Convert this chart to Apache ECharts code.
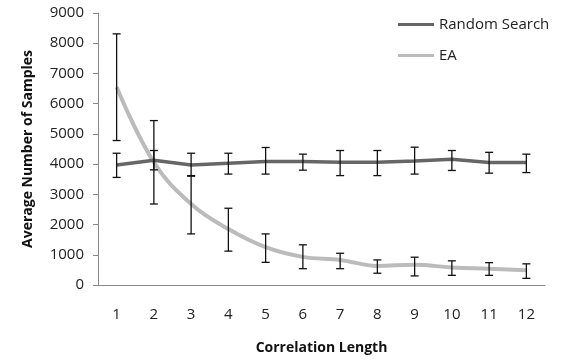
<!DOCTYPE html>
<html>
<head>
<meta charset="utf-8">
<script src="https://cdn.jsdelivr.net/npm/echarts@6/dist/echarts.min.js"></script>
<style>
  html, body { margin: 0; padding: 0; background: #fff; }
  #chart { width: 564px; height: 361px; }
</style>
</head>
<body>
<div id="chart"></div>
<script>
// correlation length categories
const lengths = ["1", "2", "3", "4", "5", "6", "7", "8", "9", "10", "11", "12"];

// Random Search: mean and error bar ends
const rsMean = [3970, 4130, 3970, 4030, 4090, 4090, 4060, 4060, 4100, 4160, 4050, 4050];
const rsLow  = [3560, 3810, 3620, 3670, 3670, 3800, 3620, 3620, 3670, 3790, 3700, 3720];
const rsHigh = [4360, 4450, 4360, 4360, 4550, 4330, 4450, 4450, 4560, 4450, 4390, 4330];

// EA: mean and error bar ends
const eaMean = [6550, 4060, 2680, 1850, 1250, 930, 830, 630, 670, 580, 540, 490];
const eaLow  = [4780, 2680, 1690, 1120, 750, 540, 540, 390, 300, 320, 320, 220];
const eaHigh = [8310, 5440, 3600, 2540, 1690, 1330, 1050, 830, 920, 800, 740, 700];

const font = "'Open Sans', sans-serif";
const chart = echarts.init(document.getElementById("chart"));

// error bar drawn with custom series (vertical line + caps)
function errorSeries(name, low, high) {
  const data = lengths.map((c, i) => [i, low[i], high[i]]);
  return {
    name: name + " err",
    type: "custom",
    z: 5,
    silent: true,
    data: data,
    encode: { x: 0, y: [1, 2] },
    renderItem: (params, api) => {
      const lo = api.coord([api.value(0), api.value(1)]);
      const hi = api.coord([api.value(0), api.value(2)]);
      const w = 4;
      const style = { stroke: "#111", lineWidth: 1.3 };
      return {
        type: "group",
        children: [
          { type: "line", shape: { x1: lo[0], y1: lo[1], x2: hi[0], y2: hi[1] }, style },
          { type: "line", shape: { x1: lo[0] - w, y1: lo[1], x2: lo[0] + w, y2: lo[1] }, style },
          { type: "line", shape: { x1: hi[0] - w, y1: hi[1], x2: hi[0] + w, y2: hi[1] }, style }
        ]
      };
    }
  };
}

const option = {
  animation: false,
  textStyle: { fontFamily: font },
  grid: { left: 98, right: 19, top: 13, bottom: 76, containLabel: false },
  legend: {
    orient: "vertical",
    left: 393,
    top: 12,
    itemWidth: 36,
    itemHeight: 3,
    itemGap: 16,
    icon: "rect",
    data: ["Random Search", "EA"],
    textStyle: { fontSize: 15, color: "#222", fontFamily: font }
  },
  xAxis: {
    type: "category",
    data: lengths,
    boundaryGap: true,
    name: "Correlation Length",
    nameLocation: "middle",
    nameGap: 56,
    nameTextStyle: { fontSize: 14, fontWeight: "bold", color: "#111", fontFamily: font },
    axisLine: { lineStyle: { color: "#888", width: 1 } },
    axisTick: { alignWithLabel: false, length: 5, lineStyle: { color: "#888" } },
    axisLabel: { margin: 22, fontSize: 15, color: "#222", fontFamily: font }
  },
  yAxis: {
    type: "value",
    min: 0,
    max: 9000,
    interval: 1000,
    name: "Average Number of Samples",
    nameLocation: "middle",
    nameGap: 63,
    nameTextStyle: { fontSize: 14, fontWeight: "bold", color: "#111", fontFamily: font },
    splitLine: { show: false },
    axisLine: { show: true, lineStyle: { color: "#888", width: 1 } },
    axisTick: { show: true, length: 5, lineStyle: { color: "#888" } },
    axisLabel: { margin: 14, fontSize: 15, color: "#222", fontFamily: font, formatter: (v) => String(v) }
  },
  series: [
    {
      name: "Random Search",
      type: "line",
      data: rsMean,
      symbol: "none",
      z: 3,
      itemStyle: { color: "#666" },
      lineStyle: { color: "#666", width: 3.5 }
    },
    {
      name: "EA",
      type: "line",
      data: eaMean,
      symbol: "none",
      smooth: 0.4,
      z: 2,
      itemStyle: { color: "#bbb" },
      lineStyle: { color: "#bbb", width: 4 }
    },
    errorSeries("Random Search", rsLow, rsHigh),
    errorSeries("EA", eaLow, eaHigh)
  ]
};

chart.setOption(option);
</script>
</body>
</html>
